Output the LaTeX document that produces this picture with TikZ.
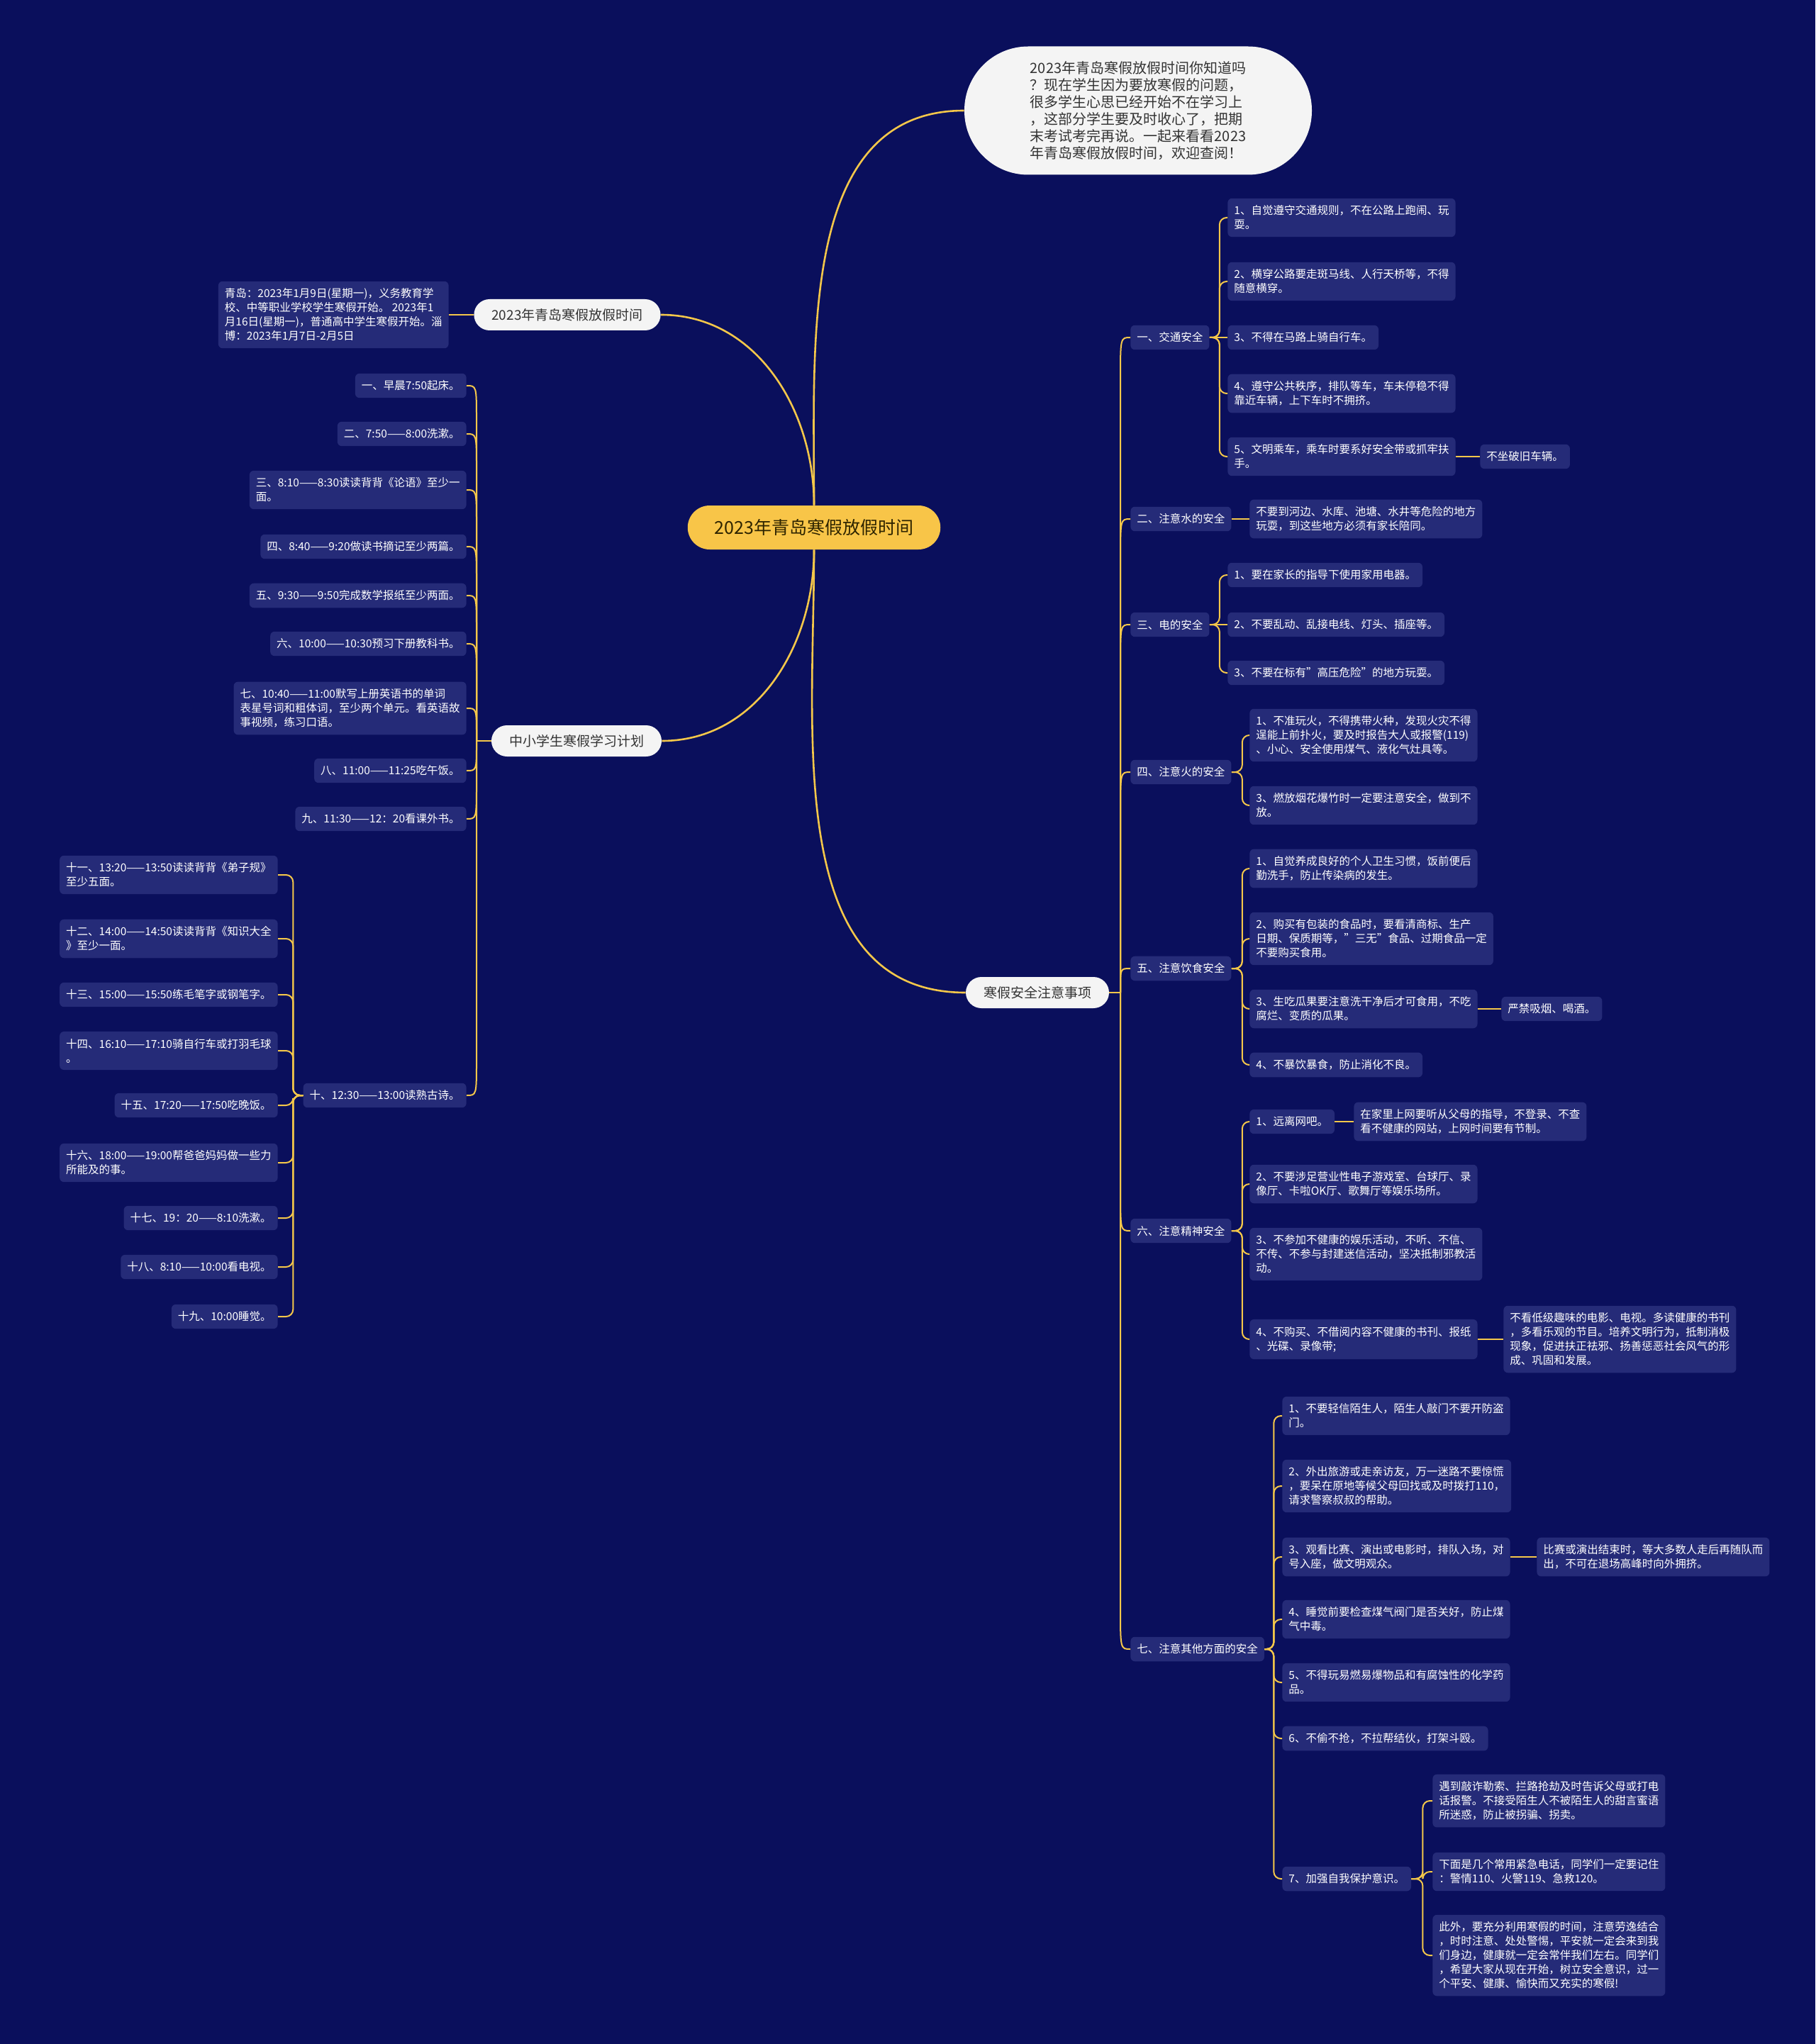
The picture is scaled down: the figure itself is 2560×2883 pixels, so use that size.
\documentclass[tikz,border=0pt]{standalone}
\usepackage{fontspec}
\setmainfont{Noto Sans CJK SC}
\usetikzlibrary{calc}
\definecolor{bgc}{HTML}{0A0F5C}
\definecolor{leafc}{HTML}{252B78}
\definecolor{goldc}{HTML}{F4C74A}
\definecolor{rootc}{HTML}{F8C548}
\definecolor{pillc}{HTML}{F4F4F4}
\definecolor{darktext}{HTML}{333333}
\definecolor{roottext}{HTML}{2E2400}
\newcommand\lffont{\fontsize{7.75pt}{10pt}\selectfont}
\tikzset{
  leaf/.style={fill=leafc, text=white, rounded corners=3pt, inner xsep=4.5pt, inner ysep=5pt, align=left, font=\lffont},
  gl/.style={draw=goldc, line width=1pt},
  gmain/.style={draw=goldc, line width=1.3pt},
  brk/.style={draw=goldc, line width=1pt, rounded corners=5pt},
  pill/.style={fill=pillc, text=darktext, rounded corners=11pt, minimum height=22pt, inner xsep=12.5pt, inner ysep=1pt, font=\fontsize{9.5pt}{11pt}\selectfont},
  rootbox/.style={fill=rootc, text=roottext, rounded corners=15.5pt, minimum height=31pt, inner xsep=19pt, inner ysep=1pt, font=\fontsize{12.5pt}{14pt}\selectfont},
  bubble/.style={fill=pillc, text=darktext, rounded corners=45pt, minimum height=90.5pt, minimum width=245pt, inner xsep=30pt, align=left, font=\fontsize{10pt}{12pt}\selectfont}
}
\begin{document}
\begin{tikzpicture}[x=0.5pt,y=-0.5pt]
\fill[bgc] (0,0) rectangle (2560,2883);
\useasboundingbox (0,0) rectangle (2560,2883);

% root and level 1
\node[rootbox] (root) at (1148,744) {2023年青岛寒假放假时间};
\node[bubble] (bub) at (1605,156) {2023年青岛寒假放假时间你知道吗\\？现在学生因为要放寒假的问题，\\很多学生心思已经开始不在学习上\\，这部分学生要及时收心了，把期\\末考试考完再说。一起来看看2023\\年青岛寒假放假时间，欢迎查阅！};
\node[pill] (la) at (800,444) {2023年青岛寒假放假时间};
\node[pill] (ls) at (813,1045) {中小学生寒假学习计划};
\node[pill] (rs) at (1463,1400) {寒假安全注意事项};

\draw[gmain] (root.north) to[out=90,in=180] (bub.west);
\draw[gmain] (la.east) to[out=0,in=90] (root.north);
\draw[gmain] (root.south) to[out=-90,in=0] (ls.east);
\draw[gmain] (root.south) to[out=-90,in=180] (rs.west);

% left top leaf
\node[leaf, anchor=east] (lf) at (633,444) {青岛：2023年1月9日(星期一)，义务教育学\\校、中等职业学校学生寒假开始。 2023年1\\月16日(星期一)，普通高中学生寒假开始。淄\\博：2023年1月7日-2月5日};
\draw[gl] (la.west) -- (lf.east);

% study plan
\node[leaf, anchor=east] (p1) at (658,544) {一、早晨7:50起床。};
\node[leaf, anchor=east] (p2) at (658,612) {二、7:50——8:00洗漱。};
\node[leaf, anchor=east] (p3) at (658,691) {三、8:10——8:30读读背背《论语》至少一\\面。};
\node[leaf, anchor=east] (p4) at (658,771) {四、8:40——9:20做读书摘记至少两篇。};
\node[leaf, anchor=east] (p5) at (658,840) {五、9:30——9:50完成数学报纸至少两面。};
\node[leaf, anchor=east] (p6) at (658,908) {六、10:00——10:30预习下册教科书。};
\node[leaf, anchor=east] (p7) at (658,999) {七、10:40——11:00默写上册英语书的单词\\表星号词和粗体词，至少两个单元。看英语故\\事视频，练习口语。};
\node[leaf, anchor=east] (p8) at (658,1087) {八、11:00——11:25吃午饭。};
\node[leaf, anchor=east] (p9) at (658,1155) {九、11:30——12：20看课外书。};
\node[leaf, anchor=east] (p10) at (658,1545) {十、12:30——13:00读熟古诗。};

\coordinate (J2) at (672,1045);
\draw[gmain] (ls.west) -- (J2);
\foreach \n/\d in {p1/50,p2/50,p3/50,p4/50,p5/50,p6/50,p7/40,p8/-38,p9/-50,p10/-50}
  \draw[gl] (J2) -- ($(J2 |- \n.east)+(0,\d)$) .. controls (J2 |- \n.east) .. (\n.east);

\node[leaf, anchor=east] (q1) at (392,1234) {十一、13:20——13:50读读背背《弟子规》\\至少五面。};
\node[leaf, anchor=east] (q2) at (392,1324) {十二、14:00——14:50读读背背《知识大全\\》至少一面。};
\node[leaf, anchor=east] (q3) at (392,1403) {十三、15:00——15:50练毛笔字或钢笔字。};
\node[leaf, anchor=east] (q4) at (392,1482) {十四、16:10——17:10骑自行车或打羽毛球\\。};
\node[leaf, anchor=east] (q5) at (392,1559) {十五、17:20——17:50吃晚饭。};
\node[leaf, anchor=east] (q6) at (392,1640) {十六、18:00——19:00帮爸爸妈妈做一些力\\所能及的事。};
\node[leaf, anchor=east] (q7) at (392,1718) {十七、19：20——8:10洗漱。};
\node[leaf, anchor=east] (q8) at (392,1787) {十八、8:10——10:00看电视。};
\node[leaf, anchor=east] (q9) at (392,1857) {十九、10:00睡觉。};
\foreach \n in {q1,q2,q3,q4,q5,q6,q7,q8,q9}
  \draw[brk] (p10.west) -- ++(-14,0) |- (\n.east);

% safety branch
\node[leaf, anchor=west] (t1) at (1594,476) {一、交通安全};
\node[leaf, anchor=west] (t2) at (1594,732) {二、注意水的安全};
\node[leaf, anchor=west] (t3) at (1594,881) {三、电的安全};
\node[leaf, anchor=west] (t4) at (1594,1089) {四、注意火的安全};
\node[leaf, anchor=west] (t5) at (1594,1366) {五、注意饮食安全};
\node[leaf, anchor=west] (t6) at (1594,1736) {六、注意精神安全};
\node[leaf, anchor=west] (t7) at (1594,2326) {七、注意其他方面的安全};

\coordinate (J) at (1580,1400);
\draw[gmain] (rs.east) -- (J);
\foreach \n/\d in {t1/60,t2/60,t3/60,t4/60,t5/28,t6/-60,t7/-60}
  \draw[gl] (J) -- ($(J |- \n.west)+(0,\d)$) .. controls (J |- \n.west) .. (\n.west);

% 一
\node[leaf, anchor=west] (t1a) at (1731,307) {1、自觉遵守交通规则，不在公路上跑闹、玩\\耍。};
\node[leaf, anchor=west] (t1b) at (1731,397) {2、横穿公路要走斑马线、人行天桥等，不得\\随意横穿。};
\node[leaf, anchor=west] (t1c) at (1731,476) {3、不得在马路上骑自行车。};
\node[leaf, anchor=west] (t1d) at (1731,555) {4、遵守公共秩序，排队等车，车未停稳不得\\靠近车辆，上下车时不拥挤。};
\node[leaf, anchor=west] (t1e) at (1731,644) {5、文明乘车，乘车时要系好安全带或抓牢扶\\手。};
\node[leaf, anchor=west] (t1f) at (2087,644) {不坐破旧车辆。};
\foreach \n in {t1a,t1b,t1d,t1e}
  \draw[brk] (t1.east) -- ++(14,0) |- (\n.west);
\draw[gl] (t1.east) -- (t1c.west);
\draw[gl] (t1e.east) -- (t1f.west);

% 二
\node[leaf, anchor=west] (t2a) at (1762,732) {不要到河边、水库、池塘、水井等危险的地方\\玩耍，到这些地方必须有家长陪同。};
\draw[gl] (t2.east) -- (t2a.west);

% 三
\node[leaf, anchor=west] (t3a) at (1731,811) {1、要在家长的指导下使用家用电器。};
\node[leaf, anchor=west] (t3b) at (1731,881) {2、不要乱动、乱接电线、灯头、插座等。};
\node[leaf, anchor=west] (t3c) at (1731,949) {3、不要在标有"高压危险"的地方玩耍。};
\foreach \n in {t3a,t3c}
  \draw[brk] (t3.east) -- ++(14,0) |- (\n.west);
\draw[gl] (t3.east) -- (t3b.west);

% 四
\node[leaf, anchor=west] (t4a) at (1762,1037) {1、不准玩火，不得携带火种，发现火灾不得\\逞能上前扑火，要及时报告大人或报警(119)\\、小心、安全使用煤气、液化气灶具等。};
\node[leaf, anchor=west] (t4b) at (1762,1136) {3、燃放烟花爆竹时一定要注意安全，做到不\\放。};
\foreach \n in {t4a,t4b}
  \draw[brk] (t4.east) -- ++(15,0) |- (\n.west);

% 五
\node[leaf, anchor=west] (t5a) at (1762,1225) {1、自觉养成良好的个人卫生习惯，饭前便后\\勤洗手，防止传染病的发生。};
\node[leaf, anchor=west] (t5b) at (1762,1324) {2、购买有包装的食品时，要看清商标、生产\\日期、保质期等，"三无"食品、过期食品一定\\不要购买食用。};
\node[leaf, anchor=west] (t5c) at (1762,1423) {3、生吃瓜果要注意洗干净后才可食用，不吃\\腐烂、变质的瓜果。};
\node[leaf, anchor=west] (t5d) at (1762,1502) {4、不暴饮暴食，防止消化不良。};
\node[leaf, anchor=west] (t5e) at (2117,1423) {严禁吸烟、喝酒。};
\foreach \n in {t5a,t5b,t5c,t5d}
  \draw[brk] (t5.east) -- ++(15,0) |- (\n.west);
\draw[gl] (t5c.east) -- (t5e.west);

% 六
\node[leaf, anchor=west] (t6a) at (1762,1582) {1、远离网吧。};
\node[leaf, anchor=west] (t6e) at (1909,1582) {在家里上网要听从父母的指导，不登录、不查\\看不健康的网站，上网时间要有节制。};
\node[leaf, anchor=west] (t6b) at (1762,1670) {2、不要涉足营业性电子游戏室、台球厅、录\\像厅、卡啦OK厅、歌舞厅等娱乐场所。};
\node[leaf, anchor=west] (t6c) at (1762,1769) {3、不参加不健康的娱乐活动，不听、不信、\\不传、不参与封建迷信活动，坚决抵制邪教活\\动。};
\node[leaf, anchor=west] (t6d) at (1762,1889) {4、不购买、不借阅内容不健康的书刊、报纸\\、光碟、录像带;};
\node[leaf, anchor=west] (t6f) at (2120,1889) {不看低级趣味的电影、电视。多读健康的书刊\\，多看乐观的节目。培养文明行为，抵制消极\\现象，促进扶正祛邪、扬善惩恶社会风气的形\\成、巩固和发展。};
\foreach \n in {t6a,t6b,t6c,t6d}
  \draw[brk] (t6.east) -- ++(15,0) |- (\n.west);
\draw[gl] (t6a.east) -- (t6e.west);
\draw[gl] (t6d.east) -- (t6f.west);

% 七
\node[leaf, anchor=west] (t7a) at (1808,1997) {1、不要轻信陌生人，陌生人敲门不要开防盗\\门。};
\node[leaf, anchor=west] (t7b) at (1808,2096) {2、外出旅游或走亲访友，万一迷路不要惊慌\\，要呆在原地等候父母回找或及时拨打110，\\请求警察叔叔的帮助。};
\node[leaf, anchor=west] (t7c) at (1808,2196) {3、观看比赛、演出或电影时，排队入场，对\\号入座，做文明观众。};
\node[leaf, anchor=west] (t7h) at (2167,2196) {比赛或演出结束时，等大多数人走后再随队而\\出，不可在退场高峰时向外拥挤。};
\node[leaf, anchor=west] (t7d) at (1808,2284) {4、睡觉前要检查煤气阀门是否关好，防止煤\\气中毒。};
\node[leaf, anchor=west] (t7e) at (1808,2373) {5、不得玩易燃易爆物品和有腐蚀性的化学药\\品。};
\node[leaf, anchor=west] (t7f) at (1808,2452) {6、不偷不抢，不拉帮结伙，打架斗殴。};
\node[leaf, anchor=west] (t7g) at (1808,2650) {7、加强自我保护意识。};
\foreach \n in {t7a,t7b,t7c,t7d,t7e,t7f,t7g}
  \draw[brk] (t7.east) -- ++(13,0) |- (\n.west);
\draw[gl] (t7c.east) -- (t7h.west);

\node[leaf, anchor=west] (u1) at (2020,2540) {遇到敲诈勒索、拦路抢劫及时告诉父母或打电\\话报警。不接受陌生人不被陌生人的甜言蜜语\\所迷惑，防止被拐骗、拐卖。};
\node[leaf, anchor=west] (u2) at (2020,2640) {下面是几个常用紧急电话，同学们一定要记住\\：警情110、火警119、急救120。};
\node[leaf, anchor=west] (u3) at (2020,2758) {此外，要充分利用寒假的时间，注意劳逸结合\\，时时注意、处处警惕，平安就一定会来到我\\们身边，健康就一定会常伴我们左右。同学们\\，希望大家从现在开始，树立安全意识，过一\\个平安、健康、愉快而又充实的寒假!};
\foreach \n in {u1,u2,u3}
  \draw[brk] (t7g.east) -- ++(16,0) |- (\n.west);
\end{tikzpicture}
\end{document}
